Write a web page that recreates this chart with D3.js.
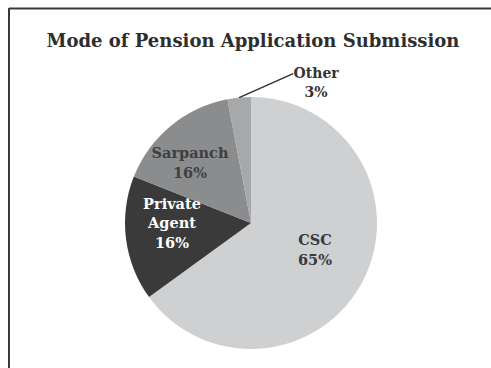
<!DOCTYPE html>
<html>
<head>
<meta charset="utf-8">
<script src="https://cdn.jsdelivr.net/npm/d3@7"></script>
<style>
  html, body { margin: 0; padding: 0; background: #ffffff; }
  svg { display: block; }
  text { font-family: "DejaVu Serif", "Liberation Serif", serif; font-weight: bold; }
</style>
</head>
<body>
<svg id="chart" width="491" height="368"></svg>
<script>
// Share of pension applications by submission channel (percent)
const categories = ["CSC", "Private Agent", "Sarpanch", "Other"];
const shares = [65, 16, 16, 3];
const labelLines = [["CSC"], ["Private", "Agent"], ["Sarpanch"], ["Other"]];
const fills = ["#cfd0d2", "#3a3a3b", "#8b8c8e", "#a7a8aa"];
const textFills = ["#3a3a3a", "#ffffff", "#3f3f40", "#333333"];

const W = 491, H = 368;
const cx = 251, cy = 223, radius = 126;

const svg = d3.select("#chart");

// panel frame: top and left rules
svg.append("line").attr("x1", 9).attr("y1", 8.5).attr("x2", W).attr("y2", 8.5)
  .attr("stroke", "#3a3a3a").attr("stroke-width", 2);
svg.append("line").attr("x1", 9).attr("y1", 8).attr("x2", 9).attr("y2", H)
  .attr("stroke", "#3a3a3a").attr("stroke-width", 2);

// title
svg.append("text")
  .attr("x", 253).attr("y", 47)
  .attr("text-anchor", "middle")
  .attr("font-size", 18)
  .attr("fill", "#2e2e2e")
  .text("Mode of Pension Application Submission");

const data = categories.map((c, i) => ({ name: c, value: shares[i], lines: labelLines[i], i }));

const pie = d3.pie().value(d => d.value).sort(null);
const arcs = pie(data);
const arc = d3.arc().innerRadius(0).outerRadius(radius);

const g = svg.append("g").attr("transform", `translate(${cx},${cy})`);

g.selectAll("path.slice")
  .data(arcs)
  .join("path")
  .attr("class", "slice")
  .attr("d", arc)
  .attr("fill", d => fills[d.data.i]);

const lineH = 19.5;

arcs.forEach(a => {
  const d = a.data;
  const lines = d.lines.concat([d.value + "%"]);
  if (d.name === "Other") {
    // callout outside the pie
    const mid = (a.startAngle + a.endAngle) / 2;
    const p0 = [radius * Math.sin(mid), -radius * Math.cos(mid)];
    const p1 = [p0[0] + 54, p0[1] - 24];
    g.append("line")
      .attr("x1", p0[0]).attr("y1", p0[1])
      .attr("x2", p1[0]).attr("y2", p1[1])
      .attr("stroke", "#2e2e2e").attr("stroke-width", 1.3);
    const t = g.append("text")
      .attr("text-anchor", "middle")
      .attr("font-size", 14)
      .attr("fill", textFills[d.i]);
    lines.forEach((ln, k) => {
      t.append("tspan")
        .attr("x", p1[0] + 23)
        .attr("y", p1[1] + 4 + k * lineH)
        .text(ln);
    });
    return;
  }
  // label centre offsets from the pie centre
  const offsets = {
    "CSC": [64, 27],
    "Private Agent": [-79, 0],
    "Sarpanch": [-61, -60]
  }[d.name];
  const n = lines.length;
  const t = g.append("text")
    .attr("text-anchor", "middle")
    .attr("font-size", 14.5)
    .attr("fill", textFills[d.i]);
  lines.forEach((ln, k) => {
    t.append("tspan")
      .attr("x", offsets[0])
      .attr("y", offsets[1] + (k - (n - 1) / 2) * lineH + 5)
      .text(ln);
  });
});
</script>
</body>
</html>
